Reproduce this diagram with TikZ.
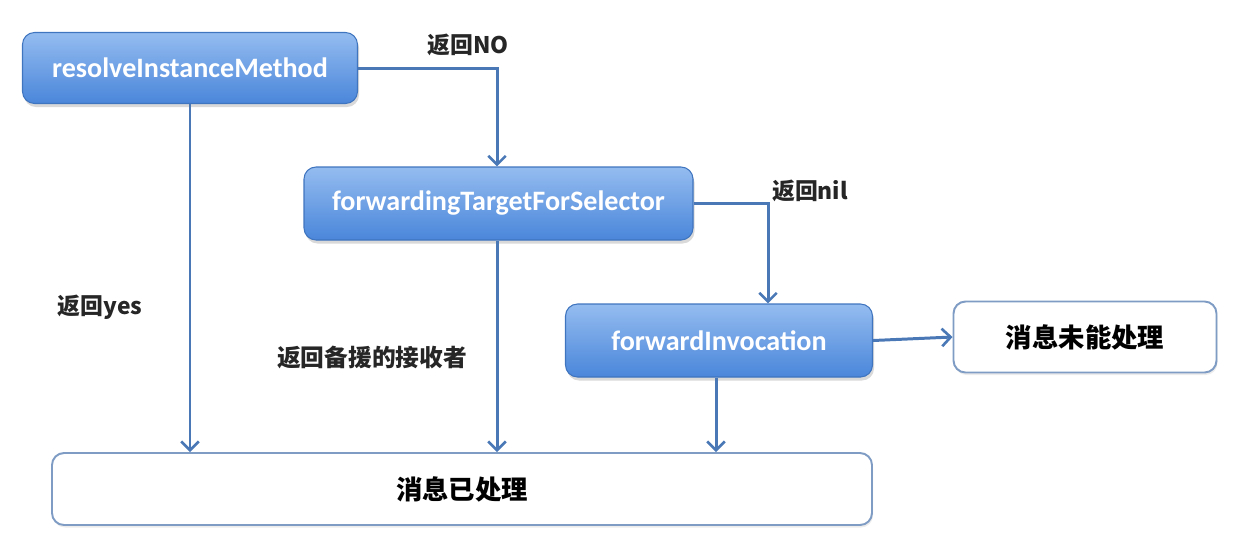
\documentclass[tikz,border=0pt]{standalone}
\usepackage{fontspec}
\setmainfont{Carlito}
\newfontfamily\cjk{Noto Sans CJK SC}
\usetikzlibrary{arrows.meta,shadows}
\definecolor{boxtop}{HTML}{94BCF0}
\definecolor{boxbot}{HTML}{4A86DA}
\definecolor{boxline}{HTML}{3F74BE}
\definecolor{arrline}{HTML}{4A78B6}
\definecolor{grayline}{HTML}{7E9CC4}
\begin{document}
\begin{tikzpicture}
\tikzset{bluenoeud/.style={rounded corners=0.24cm, draw=boxline, line width=0.6pt, top color=boxtop, bottom color=boxbot, text=white, font=\bfseries\fontsize{16}{19}\selectfont, drop shadow={opacity=0.3, shadow xshift=0.03cm, shadow yshift=-0.07cm}},
whitenoeud/.style={rounded corners=0.24cm, draw=grayline, line width=1.1pt, fill=white, font=\cjk\bfseries\fontsize{15}{18}\selectfont, drop shadow={opacity=0.15, shadow xshift=0.02cm, shadow yshift=-0.05cm}},
lien/.style={draw=arrline, line width=1.7pt, -{Straight Barb[length=5pt,width=10pt,line width=1.5pt]}},
etiq/.style={font=\cjk\bfseries\fontsize{13}{15}\selectfont, text=black!85}}
\useasboundingbox (0,0) rectangle (24.8,-10.9);
\node[bluenoeud, minimum width=6.70cm, minimum height=1.42cm] (R) at (3.80,-1.36) {resolveInstanceMethod};
\node[bluenoeud, minimum width=7.78cm, minimum height=1.46cm] (F) at (9.97,-4.07) {forwardingTargetForSelector};
\node[bluenoeud, minimum width=6.14cm, minimum height=1.46cm] (I) at (14.38,-6.81) {forwardInvocation};
\node[whitenoeud, minimum width=5.26cm, minimum height=1.42cm] (U) at (21.70,-6.74) {消息未能处理};
\node[whitenoeud, minimum width=16.40cm, minimum height=1.44cm] (D) at (9.24,-9.78) {消息已处理};
\node[etiq] (LNO) at (9.36,-0.90) {返回NO};
\node[etiq] (Lnil) at (16.20,-3.82) {返回nil};
\node[etiq] (Lyes) at (2.00,-6.14) {返回yes};
\node[etiq, font=\cjk\bfseries\fontsize{13.5}{15}\selectfont] (Lrec) at (7.44,-7.14) {返回备援的接收者};
\draw[lien] (R.east) -| ([xshift=-0.03cm]F.north);
\draw[lien] (R.south) -- (R.south |- D.north);
\draw[lien] (F.east) -| ([xshift=0.98cm]I.north);
\draw[lien] ([xshift=-0.03cm]F.south) -- ([xshift=-0.03cm]F.south |- D.north);
\draw[lien] ([xshift=-0.06cm]I.south) -- ([xshift=-0.06cm]I.south |- D.north);
\draw[lien] (I.east) -- (U.west);
\end{tikzpicture}
\end{document}
